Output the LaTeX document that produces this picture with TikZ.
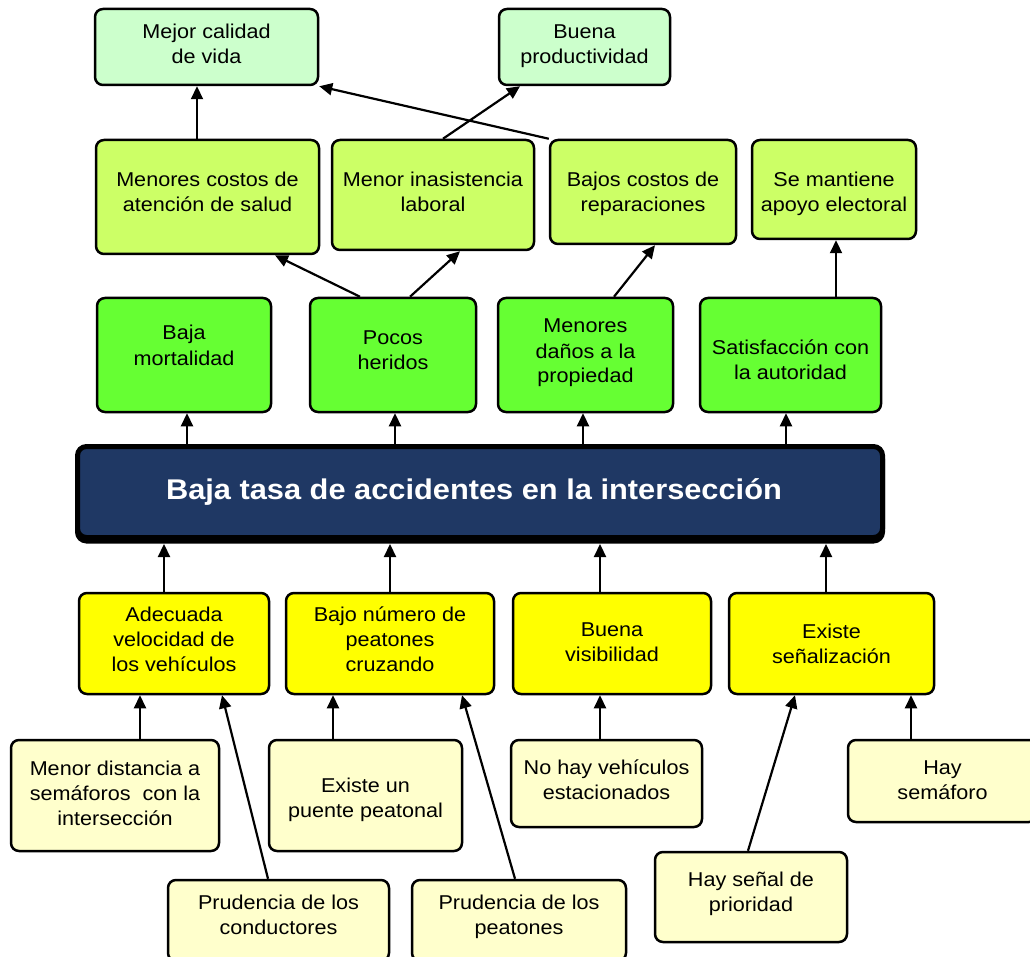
\documentclass[tikz,border=0pt]{standalone}
\usepackage{fontspec}
\setmainfont{Liberation Sans}[FakeStretch=1.08]
\usetikzlibrary{arrows.meta}

\definecolor{cq}{HTML}{CCFFCC}
\definecolor{cm}{HTML}{CCFF66}
\definecolor{cr}{HTML}{66FF33}
\definecolor{cc}{HTML}{1F3864}
\definecolor{cy}{HTML}{FFFF00}
\definecolor{cb}{HTML}{FFFFCC}

% centred block of lines, raised by #1 (less a common baseline drop) without changing its box size
\newsavebox\liftbox
\newcommand\lift[2]{\sbox\liftbox{\begin{tabular}{@{}c@{}}#2\end{tabular}}%
  \raisebox{\dimexpr#1-2.5pt\relax}[\ht\liftbox][\dp\liftbox]{\usebox\liftbox}}

\tikzset{
  box/.style={draw=black, line width=2.5pt, rounded corners=8pt, inner sep=0pt,
    text=black, font=\fontsize{20}{25}\selectfont},
  arr/.style={line width=2.2pt, -{Triangle[length=13pt,width=12pt]}},
}

\begin{document}
\begin{tikzpicture}[x=1pt,y=-1pt]
\useasboundingbox (0,0) rectangle (1030,957);
\clip (0,0) rectangle (1030,957);

% consequences, top level
\node[box, fill=cq, minimum width=223pt, minimum height=76pt] (q1) at (206.5,47) {\lift{3pt}{Mejor calidad\\de vida}};
\node[box, fill=cq, minimum width=171pt, minimum height=76pt] (q2) at (584.5,47) {\lift{3pt}{Buena\\productividad}};

% consequences, second level
\node[box, fill=cm, minimum width=223pt, minimum height=114pt] (m1) at (207.5,197) {\lift{5.5pt}{Menores costos de\\atención de salud}};
\node[box, fill=cm, minimum width=202pt, minimum height=110pt] (m2) at (433,195) {\lift{3.5pt}{Menor inasistencia\\laboral}};
\node[box, fill=cm, minimum width=186pt, minimum height=104pt] (m3) at (643,192) {\lift{0.5pt}{Bajos costos de\\reparaciones}};
\node[box, fill=cm, minimum width=164pt, minimum height=99pt] (m4) at (834,189.5) {\lift{-2pt}{Se mantiene\\apoyo electoral}};

% direct effects
\node[box, fill=cr, minimum width=174pt, minimum height=114pt] (r1) at (184,355) {\lift{10pt}{Baja\\mortalidad}};
\node[box, fill=cr, minimum width=166pt, minimum height=114pt] (r2) at (393,355) {\lift{5.5pt}{Pocos\\heridos}};
\node[box, fill=cr, minimum width=175pt, minimum height=114pt] (r3) at (585.5,355) {\lift{4.5pt}{Menores\\daños a la\\propiedad}};
\node[box, fill=cr, minimum width=181pt, minimum height=114pt] (r4) at (790.5,355) {\lift{-4.5pt}{Satisfacción con\\la autoridad}};

% central objective (title set slightly left of centre)
\node[draw=black, line width=5pt, rounded corners=9pt, fill=cc, inner sep=0pt,
  minimum width=805pt, minimum height=91pt,
  preaction={fill=black, draw=black, transform canvas={yshift=-3.5pt}},
  text=white, font=\bfseries\fontsize{28.5}{32}\selectfont] (c) at (480,492)
  {\lift{1pt}{Baja tasa de accidentes en la intersección\hspace*{12pt}}};

% means
\node[box, fill=cy, minimum width=190pt, minimum height=101pt] (y1) at (174,643.5) {\lift{4.5pt}{Adecuada\\velocidad de\\los vehículos}};
\node[box, fill=cy, minimum width=208pt, minimum height=101pt] (y2) at (390,643.5) {\lift{4.5pt}{Bajo número de\\peatones\\cruzando}};
\node[box, fill=cy, minimum width=198pt, minimum height=101pt] (y3) at (612,643.5) {\lift{2.5pt}{Buena\\visibilidad}};
\node[box, fill=cy, minimum width=205pt, minimum height=101pt] (y4) at (831.5,643.5) {\lift{0.5pt}{Existe\\señalización}};

% basic means
\node[box, fill=cb, minimum width=208pt, minimum height=111pt] (b1) at (115,795.5) {\lift{2.5pt}{Menor distancia a\\semáforos~~con la\\intersección}};
\node[box, fill=cb, minimum width=193pt, minimum height=111pt] (b2) at (365.5,795.5) {\lift{-2pt}{Existe un\\puente peatonal}};
\node[box, fill=cb, minimum width=191pt, minimum height=87pt] (b3) at (606.5,783.5) {\lift{4.5pt}{No hay vehículos\\estacionados}};
\node[box, fill=cb, minimum width=189pt, minimum height=82pt] (b4) at (942.5,781) {\lift{2pt}{Hay\\semáforo}};
\node[box, fill=cb, minimum width=221pt, minimum height=81pt] (b5) at (278.5,920.5) {\lift{6pt}{Prudencia de los\\conductores}};
\node[box, fill=cb, minimum width=214pt, minimum height=81pt] (b6) at (519,920.5) {\lift{6pt}{Prudencia de los\\peatones}};
\node[box, fill=cb, minimum width=192pt, minimum height=90pt] (b7) at (751,897) {\lift{5.5pt}{Hay señal de\\prioridad}};

% upper connectors
\draw[arr] ([xshift=-10.5pt]m1.north) -- ([xshift=-10.5pt]m1.north |- q1.south);
\draw[arr] (m3.north west) -- (q1.south east);
\draw[arr] ([xshift=10pt]m2.north) -- ([xshift=-64.5pt]q2.south);
\draw[arr] ([xshift=-33pt]r2.north) -- ([xshift=67.5pt]m1.south);
\draw[arr] ([xshift=17pt]r2.north) -- ([xshift=27pt]m2.south);
\draw[arr] ([xshift=28.5pt]r3.north) -- ([xshift=12pt]m3.south);
\draw[arr] ([xshift=45.5pt]r4.north) -- ([xshift=45.5pt]r4.north |- m4.south);

% objective to its effects
\draw[arr] ([xshift=3pt]r1.south |- c.north) -- ([xshift=3pt]r1.south);
\draw[arr] ([xshift=2pt]r2.south |- c.north) -- ([xshift=2pt]r2.south);
\draw[arr] ([xshift=-2.5pt]r3.south |- c.north) -- ([xshift=-2.5pt]r3.south);
\draw[arr] ([xshift=-4.5pt]r4.south |- c.north) -- ([xshift=-4.5pt]r4.south);

% means to objective
\draw[arr] ([xshift=-10pt]y1.north) -- ([xshift=-10pt,yshift=-4pt]y1.north |- c.south);
\draw[arr] (y2.north) -- ([yshift=-4pt]y2.north |- c.south);
\draw[arr] ([xshift=-12pt]y3.north) -- ([xshift=-12pt,yshift=-4pt]y3.north |- c.south);
\draw[arr] ([xshift=-5.5pt]y4.north) -- ([xshift=-5.5pt,yshift=-4pt]y4.north |- c.south);

% basic means to means
\draw[arr] ([xshift=25pt]b1.north) -- ([xshift=25pt]b1.north |- y1.south);
\draw[arr] ([xshift=-10.5pt]b5.north) -- ([xshift=48pt]y1.south);
\draw[arr] ([xshift=-32.5pt]b2.north) -- ([xshift=-32.5pt]b2.north |- y2.south);
\draw[arr] ([xshift=-4pt]b6.north) -- ([xshift=72pt]y2.south);
\draw[arr] ([xshift=-6.5pt]b3.north) -- ([xshift=-6.5pt]b3.north |- y3.south);
\draw[arr] ([xshift=-3pt]b7.north) -- ([xshift=-36.5pt]y4.south);
\draw[arr] ([xshift=-31.5pt]b4.north) -- ([xshift=-31.5pt]b4.north |- y4.south);
\end{tikzpicture}
\end{document}
